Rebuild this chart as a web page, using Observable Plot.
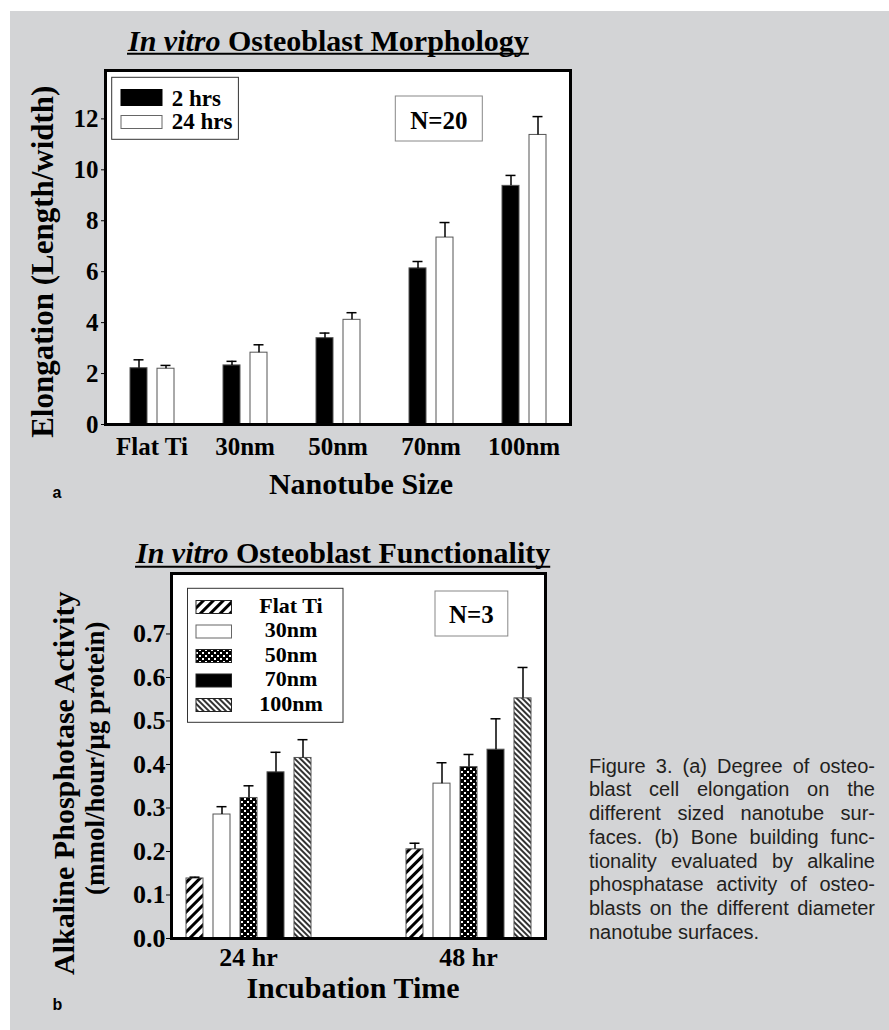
<!DOCTYPE html>
<html>
<head>
<meta charset="utf-8">
<script src="https://cdn.jsdelivr.net/npm/d3@7"></script>
<script src="https://cdn.jsdelivr.net/npm/@observablehq/plot@0.6"></script>
<style>
  html, body { margin: 0; padding: 0; background: #ffffff; }
  #page { position: relative; width: 889px; height: 1030px; overflow: hidden; }
  #bg { position: absolute; left: 10px; top: 11px; right: 0; bottom: 0; background: #d3d4d6; }
  .panel { position: absolute; left: 0; }
  #overlay { position: absolute; left: 0; top: 0; pointer-events: none; }
  #caption { position: absolute; left: 589px; top: 754.5px; width: 286px;
    font-family: 'Liberation Sans', Arial, Helvetica, sans-serif; font-size: 20px;
    line-height: 23.8px; color: #231f20; }
  #caption span { display: block; text-align: justify; text-align-last: justify; }
  #caption span.last { text-align-last: left; }
</style>
</head>
<body>
<svg width="0" height="0" style="position:absolute">
  <defs>
    <pattern id="hatchFwd" patternUnits="userSpaceOnUse" width="7" height="7" patternTransform="rotate(45)">
      <rect width="7" height="7" fill="white"/>
      <line x1="1.5" y1="0" x2="1.5" y2="7" stroke="black" stroke-width="3"/>
    </pattern>
    <pattern id="hatchBack" patternUnits="userSpaceOnUse" width="4" height="4" patternTransform="rotate(-45)">
      <rect width="4" height="4" fill="white"/>
      <line x1="1" y1="0" x2="1" y2="4" stroke="black" stroke-width="1.6"/>
    </pattern>
    <pattern id="dots" patternUnits="userSpaceOnUse" width="6" height="6">
      <rect width="6" height="6" fill="black"/>
      <rect x="1" y="1" width="2" height="2" fill="white"/>
      <rect x="4" y="4" width="2" height="2" fill="white"/>
    </pattern>
  </defs>
</svg>
<div id="page">
  <div id="bg"></div>
  <div id="caption">
    <span>Figure 3. (a) Degree of osteo-</span>
    <span>blast cell elongation on the</span>
    <span>different sized nanotube sur-</span>
    <span>faces. (b) Bone building func-</span>
    <span>tionality evaluated by alkaline</span>
    <span>phosphatase activity of osteo-</span>
    <span>blasts on the different diameter</span>
    <span class="last">nanotube surfaces.</span>
  </div>
</div>
<script>
// ---------- Data (panel a) ----------
const sizesA = ["Flat Ti", "30nm", "50nm", "70nm", "100nm"];
const timesA = ["2 hrs", "24 hrs"];
const elong2h = [2.21, 2.32, 3.39, 6.13, 9.37];
const elong2hErr = [0.33, 0.16, 0.20, 0.27, 0.41];
const elong24h = [2.19, 2.82, 4.11, 7.34, 11.37];
const elong24hErr = [0.13, 0.31, 0.28, 0.59, 0.72];
const ticksA = [0, 2, 4, 6, 8, 10, 12];

// ---------- Data (panel b) ----------
const timesB = ["24 hr", "48 hr"];
const sizesB = ["Flat Ti", "30nm", "50nm", "70nm", "100nm"];
const alp24 = [0.138, 0.285, 0.323, 0.382, 0.415];
const alp24Err = [0.003, 0.018, 0.028, 0.046, 0.042];
const alp48 = [0.205, 0.356, 0.394, 0.434, 0.552];
const alp48Err = [0.014, 0.048, 0.029, 0.071, 0.071];
const ticksB = [0, 0.1, 0.2, 0.3, 0.4, 0.5, 0.6, 0.7];

// ---------- Tables ----------
const rowsA = sizesA.flatMap((size, i) => [
  {size, time: timesA[0], value: elong2h[i], err: elong2hErr[i]},
  {size, time: timesA[1], value: elong24h[i], err: elong24hErr[i]}
]);
const valsB = [alp24, alp48], errsB = [alp24Err, alp48Err];
const rowsB = timesB.flatMap((time, i) => sizesB.map((size, j) => ({time, size, value: valsB[i][j], err: errsB[i][j]})));

const serif = "'Liberation Serif','Times New Roman',Times,serif";
const sans = "'Liberation Sans',Arial,Helvetica,sans-serif";
const fillsB = ["url(#hatchFwd)", "white", "url(#dots)", "black", "url(#hatchBack)"];

function render(base, marks) {
  try {
    return Plot.plot({...base, marks: [
      Plot.frame({facet: "super", fill: "white", stroke: "none"}),
      ...marks,
      Plot.frame({facet: "super", fill: "none", stroke: "black", strokeWidth: 3})
    ]});
  } catch (e) {
    const svg = Plot.plot({...base, marks});
    const w = base.width - base.marginLeft - base.marginRight;
    const h = base.height - base.marginTop - base.marginBottom;
    const s = d3.select(svg);
    s.insert("rect", "g").attr("x", base.marginLeft).attr("y", base.marginTop)
      .attr("width", w).attr("height", h).attr("fill", "white");
    s.append("rect").attr("x", base.marginLeft).attr("y", base.marginTop)
      .attr("width", w).attr("height", h).attr("fill", "none")
      .attr("stroke", "black").attr("stroke-width", 3);
    return svg;
  }
}

const page = document.getElementById("page");

// ---------- Panel a ----------
const plotA = render({
  width: 600, height: 520,
  marginLeft: 104, marginRight: 29, marginTop: 70, marginBottom: 96,
  style: {background: "transparent", fontFamily: serif, fontWeight: "bold", fontSize: "25px", color: "black", overflow: "visible"},
  facet: {data: rowsA, x: "size"},
  fx: {domain: sizesA, padding: 0, axis: "bottom", tickSize: 0, tickPadding: 13, label: null},
  x: {domain: timesA, paddingInner: 0.384, paddingOuter: 0.866, axis: null},
  y: {domain: [0, 13.9], ticks: ticksA, tickSize: 4, tickPadding: 3, label: null},
  color: {domain: timesA, range: ["black", "white"]}
}, [
  Plot.barY(rowsA, {x: "time", y: "value", fill: "time", stroke: "#555", strokeWidth: 1}),
  Plot.ruleX(rowsA, {x: "time", y1: "value", y2: d => d.value + d.err, stroke: "black", strokeWidth: 1.5}),
  Plot.tickY(rowsA, {x: "time", y: d => d.value + d.err, stroke: "black", strokeWidth: 1.5, insetLeft: 3.5, insetRight: 3.5})
]);
plotA.classList.add("panel");
plotA.style.top = "0px";
page.appendChild(plotA);

// ---------- Panel b ----------
const plotB = render({
  width: 600, height: 530,
  marginLeft: 159, marginRight: 32, marginTop: 73, marginBottom: 92,
  style: {background: "transparent", fontFamily: serif, fontWeight: "bold", fontSize: "26px", color: "black", overflow: "visible"},
  facet: {data: rowsB, x: "time"},
  fx: {domain: timesB, paddingInner: 0.3, paddingOuter: 0.0783, align: 0.33, axis: "bottom", tickSize: 0, tickPadding: 9, label: null},
  x: {domain: sizesB, paddingInner: 0.386, paddingOuter: 0.447, axis: null},
  y: {domain: [0, 0.839], ticks: ticksB, tickFormat: d3.format(".1f"), tickSize: 5, tickPadding: 1, label: null},
  color: {domain: sizesB, range: fillsB}
}, [
  Plot.barY(rowsB, {x: "size", y: "value", fill: "size", stroke: "#555", strokeWidth: 1}),
  Plot.ruleX(rowsB, {x: "size", y1: "value", y2: d => d.value + d.err, stroke: "black", strokeWidth: 1.5}),
  Plot.tickY(rowsB, {x: "size", y: d => d.value + d.err, stroke: "black", strokeWidth: 1.5, insetLeft: 3.5, insetRight: 3.5})
]);
plotB.classList.add("panel");
plotB.style.top = "500px";
page.appendChild(plotB);

// ---------- Overlay: titles, axis titles, legends, annotations ----------
const ov = d3.select(page).append("svg").attr("id", "overlay").attr("width", 889).attr("height", 1030);

function title(x, y, rest, uy) {
  const t = ov.append("text").attr("x", x).attr("y", y)
    .attr("font-family", serif).attr("font-weight", "bold").attr("font-size", 30).attr("fill", "black");
  t.append("tspan").attr("font-style", "italic").text("In vitro");
  t.append("tspan").text(" " + rest);
  const bb = t.node().getBBox();
  ov.append("line").attr("x1", bb.x).attr("x2", bb.x + bb.width).attr("y1", uy).attr("y2", uy)
    .attr("stroke", "black").attr("stroke-width", 2);
}
function label(x, y, s, size, rotate, family = serif, anchor = "middle") {
  ov.append("text")
    .attr("transform", `translate(${x},${y})` + (rotate ? " rotate(-90)" : ""))
    .attr("text-anchor", anchor).attr("font-family", family).attr("font-weight", "bold")
    .attr("font-size", size).attr("fill", "black").text(s);
}
function box(x, y, w, h, stroke) {
  ov.append("rect").attr("x", x).attr("y", y).attr("width", w).attr("height", h)
    .attr("fill", "white").attr("stroke", stroke).attr("stroke-width", 1);
}

title(128, 50.7, "Osteoblast Morphology", 53.8);
title(136, 563.3, "Osteoblast Functionality", 566.8);

label(53, 261.7, "Elongation (Length/width)", 31, true);
label(361, 494, "Nanotube Size", 30, false);
label(73.5, 783.3, "Alkaline Phosphotase Activity", 30, true);
label(104, 758.3, "(mmol/hour/\u03bcg protein)", 27, true);
label(353, 998.3, "Incubation Time", 30, false);
label(52.5, 498, "a", 16, false, sans, "start");
label(52.5, 1010, "b", 16, false, sans, "start");

// legend a
box(111.7, 77.3, 126.7, 62, "#333");
const legA = [{y: 89.5, h: 16, fill: "black", stroke: "black", base: 106}, {y: 115.5, h: 13, fill: "white", stroke: "#666", base: 129}];
legA.forEach((r, i) => {
  ov.append("rect").attr("x", 121).attr("y", r.y).attr("width", 41).attr("height", r.h)
    .attr("fill", r.fill).attr("stroke", r.stroke).attr("stroke-width", 1);
  label(171.7, r.base, timesA[i], 23, false, serif, "start");
});
box(395.3, 96, 87, 45, "#888");
label(438.8, 129, "N=20", 25, false);

// legend b
box(187.5, 588.3, 155.5, 134, "#333");
const legBTop = [600.5, 625, 649.5, 674, 698.5];
const legBBase = [612.5, 637, 661.5, 686, 710.5];
sizesB.forEach((s, i) => {
  ov.append("rect").attr("x", 196).attr("y", legBTop[i]).attr("width", 35.5).attr("height", 13)
    .attr("fill", fillsB[i]).attr("stroke", i === 1 ? "#666" : "#222").attr("stroke-width", 1);
  label(291, legBBase[i], s, 22, false);
});
box(435, 591, 72.8, 45, "#888");
label(471.4, 623.3, "N=3", 25, false);
</script>
</body>
</html>
